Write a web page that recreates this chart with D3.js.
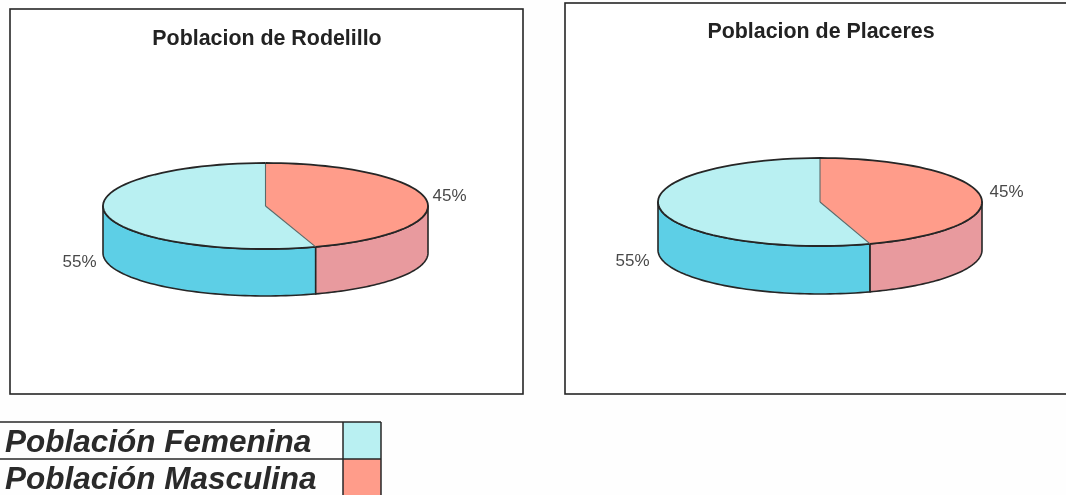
<!DOCTYPE html>
<html><head><meta charset="utf-8">
<script src="https://cdn.jsdelivr.net/npm/d3@7"></script>
<style>html,body{margin:0;padding:0;background:#fefefe;overflow:hidden}svg{display:block}text{font-family:"Liberation Sans",Arial,sans-serif}</style>
</head><body><svg id="c" width="1066" height="495"></svg>
<script>
const categories = ["Población Femenina", "Población Masculina"];
const rodelilloValues = [55, 45];
const placeresValues = [55, 45];
const topColors = ["#b9f0f2", "#ff9c8a"];
const wallColors = ["#5dcfe6", "#e89a9e"];

const root = d3.select("#c");
root.append("defs").append("filter").attr("id","scan").attr("x","-2%").attr("y","-2%").attr("width","104%").attr("height","104%")
  .append("feGaussianBlur").attr("stdDeviation",0.45);
const svg = root.append("g").attr("filter","url(#scan)");
root.insert("rect","g").attr("width",1066).attr("height",495).attr("fill","#fefefe");
const ink = "#262626";
const TAU = 2 * Math.PI;

const charts = [
  {title:"Poblacion de Rodelillo", values:rodelilloValues, frame:[10,9,513,385], titleX:267, titleY:45,
   cx:265.5, cy:206, rx:162.5, ry:43, depth:47, labels:[[79.5,267],[449.5,201]]},
  {title:"Poblacion de Placeres", values:placeresValues, frame:[565,3,520,391], titleX:821, titleY:38,
   cx:820, cy:202, rx:162, ry:44, depth:48, labels:[[632.5,266],[1006.5,197]]}
];

function drawPie(cfg){
  const g = svg.append("g");
  g.append("rect").attr("x",cfg.frame[0]).attr("y",cfg.frame[1]).attr("width",cfg.frame[2]).attr("height",cfg.frame[3])
    .attr("fill","#ffffff").attr("stroke",ink).attr("stroke-width",1.6);
  g.append("text").attr("x",cfg.titleX).attr("y",cfg.titleY).attr("text-anchor","middle")
    .attr("font-size",21.4).attr("font-weight",700).attr("fill","#222").text(cfg.title);

  const total = d3.sum(cfg.values);
  const pie = d3.pie().sort(null)
    .startAngle(-cfg.values[0]/total*TAU).endAngle(cfg.values[1]/total*TAU);
  const arcs = pie(cfg.values);

  const px = a => cfg.cx + cfg.rx*Math.sin(a);
  const py = a => cfg.cy - cfg.ry*Math.cos(a);
  const samples = (a0,a1) => d3.range(0,61).map(i => a0+(a1-a0)*i/60);
  const curve = d3.line().x(a=>px(a)).y(a=>py(a));

  // side walls: only the front half of the rim is visible
  arcs.forEach((d,i)=>{
    let a0=d.startAngle, a1=d.endAngle;
    if(a0<0){ a0+=TAU; a1+=TAU; }
    const s=Math.max(a0,Math.PI/2), e=Math.min(a1,3*Math.PI/2);
    if(e<=s) return;
    const top=samples(s,e), bot=top.slice().reverse();
    const p=top.map(a=>[px(a),py(a)]).concat(bot.map(a=>[px(a),py(a)+cfg.depth]));
    g.append("path").attr("d",d3.line()(p)+"Z").attr("fill",wallColors[i])
      .attr("stroke",ink).attr("stroke-width",1.6).attr("stroke-linejoin","round");
  });

  // top slices
  arcs.forEach((d,i)=>{
    const a=samples(d.startAngle,d.endAngle);
    const p=[[cfg.cx,cfg.cy]].concat(a.map(v=>[px(v),py(v)]));
    g.append("path").attr("d",d3.line()(p)+"Z").attr("fill",topColors[i]).attr("stroke","none");
  });
  // radii are lighter, the rim darker
  arcs.forEach(d=>{
    g.append("path").attr("d",d3.line()([[cfg.cx,cfg.cy],[px(d.endAngle),py(d.endAngle)]]))
      .attr("stroke","#5a6a6a").attr("stroke-width",1.1).attr("fill","none");
    g.append("path").attr("d",curve(samples(d.startAngle,d.endAngle))).attr("fill","none")
      .attr("stroke",ink).attr("stroke-width",1.8);
  });

  cfg.values.forEach((v,i)=>{
    const l=cfg.labels[i];
    g.append("text").attr("x",l[0]).attr("y",l[1]).attr("text-anchor","middle")
      .attr("font-size",17).attr("fill","#4a4a4a").text(d3.format(".0%")(v/total));
  });
}
charts.forEach(drawPie);

// legend table
const rowY = d3.scalePoint().domain(categories).range([422,459]);
const rowH = 37, lx0=-2, lx1=343, lx2=381;
categories.forEach((c,i)=>{
  const y=rowY(c);
  svg.append("rect").attr("x",lx1).attr("y",y).attr("width",lx2-lx1).attr("height",rowH).attr("fill",topColors[i]);
  svg.append("text").attr("x",5).attr("y",y+29.5).attr("font-size",31.5).attr("font-weight",700).attr("font-style","italic")
    .attr("fill","#2a2a2a").text(c);
});
[[lx0,422,lx2,422],[lx0,459,lx2,459],[lx1,422,lx1,497],[lx2,422,lx2,497]].forEach(l=>{
  svg.append("line").attr("x1",l[0]).attr("y1",l[1]).attr("x2",l[2]).attr("y2",l[3])
    .attr("stroke",ink).attr("stroke-width",1.5);
});
</script></body></html>
